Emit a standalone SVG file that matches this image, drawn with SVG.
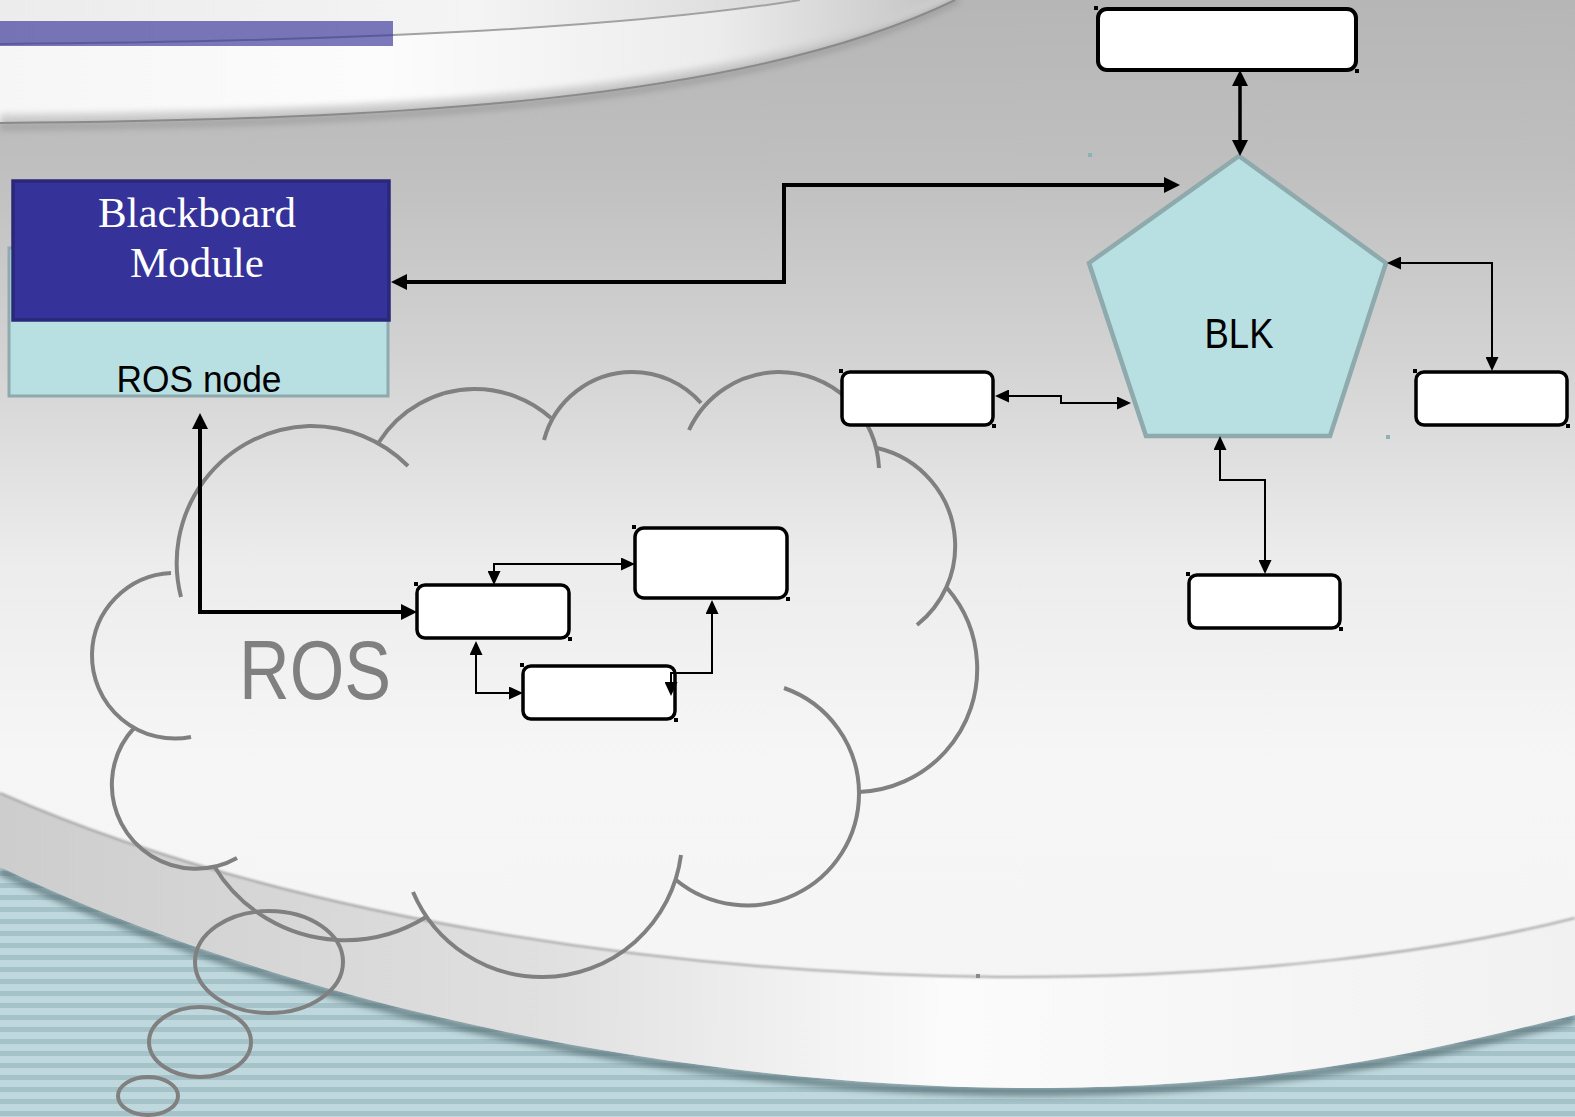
<svg xmlns="http://www.w3.org/2000/svg" width="1575" height="1117" viewBox="0 0 1575 1117">
<style>
.box{fill:#ffffff;stroke:#000000;stroke-width:3.5}
.dot{fill:#000000}
.cloud{fill:none;stroke:#808080;stroke-width:4}
.thick{fill:none;stroke:#000000;stroke-width:4;marker-start:url(#ahThick);marker-end:url(#ahThick)}
.thin{fill:none;stroke:#000000;stroke-width:2;marker-start:url(#ahThin);marker-end:url(#ahThin)}
.sans{font-family:"Liberation Sans",Arial,sans-serif}
.serif{font-family:"Liberation Serif","Times New Roman",serif}
</style>
<defs>
<linearGradient id="bg" x1="0" y1="0" x2="0" y2="1">
<stop offset="0" stop-color="#b6b6b6"/>
<stop offset="0.15" stop-color="#bfbfbf"/>
<stop offset="0.33" stop-color="#d4d4d4"/>
<stop offset="0.5" stop-color="#ececec"/>
<stop offset="0.68" stop-color="#f6f6f6"/>
<stop offset="1" stop-color="#f4f4f4"/>
</linearGradient>
<linearGradient id="plateTop" x1="0" y1="0" x2="1" y2="0">
<stop offset="0" stop-color="#f6f6f6"/>
<stop offset="0.4" stop-color="#fcfcfc"/>
<stop offset="0.75" stop-color="#ececec"/>
<stop offset="1" stop-color="#c2c2c2"/>
</linearGradient>
<linearGradient id="plateRim" x1="0" y1="0" x2="1" y2="0">
<stop offset="0" stop-color="#ececec"/>
<stop offset="0.6" stop-color="#f4f4f4"/>
<stop offset="1" stop-color="#d8d8d8"/>
</linearGradient>
<linearGradient id="band" x1="0" y1="0" x2="1" y2="0">
<stop offset="0" stop-color="#cdcdcd"/>
<stop offset="0.35" stop-color="#e0e0e0"/>
<stop offset="0.6" stop-color="#fbfbfb"/>
<stop offset="1" stop-color="#f1f1f1"/>
</linearGradient>
<pattern id="stripes" patternUnits="userSpaceOnUse" width="20" height="12">
<rect width="20" height="12" fill="#bfd8dd"/>
<rect y="7" width="20" height="5" fill="#a6c2c9"/>
</pattern>
<filter id="blur" filterUnits="userSpaceOnUse" x="0" y="0" width="1575" height="1117">
<feGaussianBlur stdDeviation="3"/>
</filter>
<filter id="blur1" filterUnits="userSpaceOnUse" x="0" y="0" width="1575" height="1117">
<feGaussianBlur stdDeviation="1.2"/>
</filter>
<clipPath id="plateClip">
<path d="M0,44 C300,42 600,32 800,0 L955,0 C750,100 400,120 0,123 Z"/>
</clipPath>
<marker id="ahThick" viewBox="0 0 16 16" refX="12" refY="8" markerWidth="16" markerHeight="16" markerUnits="userSpaceOnUse" orient="auto-start-reverse">
<path d="M0,0 L16,8 L0,16 Z" fill="#000000"/>
</marker>
<marker id="ahThin" viewBox="0 0 14 13" refX="12" refY="6.5" markerWidth="14" markerHeight="13" markerUnits="userSpaceOnUse" orient="auto-start-reverse">
<path d="M0,0 L14,6.5 L0,13 Z" fill="#000000"/>
</marker>
</defs>

<g id="background">
<rect x="0" y="0" width="1575" height="1117" fill="url(#bg)"/>
<path d="M0,0 L800,0 C600,32 300,42 0,44 Z" fill="url(#plateRim)"/>
<path d="M0,44 C300,42 600,32 800,0 L955,0 C750,100 400,120 0,123 Z" fill="url(#plateTop)"/>
<path d="M0,123 C400,120 750,100 955,0" fill="none" stroke="#cfcfcf" stroke-width="18" filter="url(#blur)" clip-path="url(#plateClip)"/>
<path d="M0,127 C400,124 752,104 959,0" fill="none" stroke="#8e8e8e" stroke-width="6" opacity="0.6" filter="url(#blur)"/>
<path d="M0,123 C400,120 750,100 955,0" fill="none" stroke="#8a8a8a" stroke-width="2"/>
<path d="M0,44 C300,42 600,32 800,0" fill="none" stroke="#a2a2a2" stroke-width="2"/>
<path d="M0,867 C300,1010 700,1090 1050,1088 C1300,1086 1450,1045 1575,1015 L1575,1117 L0,1117 Z" fill="url(#stripes)"/>
<path d="M0,871 C300,1014 700,1094 1050,1092 C1300,1090 1450,1049 1575,1019" fill="none" stroke="#4d676d" stroke-width="8" opacity="0.75" filter="url(#blur)"/>
<path d="M0,793 C300,925 700,975 1000,977 C1250,978 1450,950 1575,918 L1575,1015 C1450,1045 1300,1086 1050,1088 C700,1090 300,1010 0,867 Z" fill="url(#band)"/>
<path d="M0,793 C300,925 700,975 1000,977 C1250,978 1450,950 1575,918" fill="none" stroke="#a4a4a4" stroke-width="2" filter="url(#blur1)"/>
<rect x="0" y="21" width="393" height="25" fill="#353399" opacity="0.65"/>
<rect x="1088" y="153" width="4" height="4" fill="#8fb0b4"/>
<rect x="1386" y="435" width="4" height="4" fill="#8fb0b4"/>
<rect x="976" y="974" width="4" height="4" fill="#8a8a8a"/>
</g>

<g id="ros-cloud">
<path class="cloud" d="M191,737 A83,83 0 0 1 92,654 A83,83 0 0 1 171,573"/>
<path class="cloud" d="M181,597 A137,137 0 0 1 309,426 A137,137 0 0 1 408,466"/>
<path class="cloud" d="M379,442 A114,114 0 0 1 474,389 A114,114 0 0 1 551,418"/>
<path class="cloud" d="M544,440 A91.5,91.5 0 0 1 632,372 A91.5,91.5 0 0 1 701,403"/>
<path class="cloud" d="M689,430 A100,100 0 0 1 778,372 A100,100 0 0 1 879,468"/>
<path class="cloud" d="M877,448 A100.5,100.5 0 0 1 955,540 A100.5,100.5 0 0 1 917,625"/>
<path class="cloud" d="M947,588 A123,123 0 0 1 977,662 A123,123 0 0 1 859,792"/>
<path class="cloud" d="M784,688 A112,112 0 0 1 859,793 A112,112 0 0 1 676,880"/>
<path class="cloud" d="M413,892 A140,140 0 0 0 543,977 A140,140 0 0 0 681,855"/>
<path class="cloud" d="M214,866 A153,153 0 0 0 337,940 A153,153 0 0 0 426,917"/>
<path class="cloud" d="M135,727 A84,84 0 0 0 112,780 A84,84 0 0 0 237,858"/>
<ellipse class="cloud" cx="269" cy="962" rx="74" ry="51"/>
<ellipse class="cloud" cx="200" cy="1042" rx="51" ry="35"/>
<ellipse class="cloud" cx="148" cy="1096" rx="30" ry="19"/>
<text class="sans" x="315" y="699" font-size="84" fill="#808080" text-anchor="middle" textLength="152" lengthAdjust="spacingAndGlyphs">ROS</text>
</g>

<g id="ros-node">
<rect x="9" y="248" width="379" height="148" fill="#b8dfe2" stroke="#8eaaac" stroke-width="3"/>
<text class="sans" x="199" y="392" font-size="36" fill="#000000" text-anchor="middle" textLength="165" lengthAdjust="spacingAndGlyphs">ROS node</text>
</g>

<g id="blackboard-module">
<rect x="13" y="181" width="376" height="139" fill="#353399" stroke="#2a2879" stroke-width="3.5"/>
<text class="serif" x="197" y="227" font-size="43" fill="#ffffff" text-anchor="middle">Blackboard</text>
<text class="serif" x="197" y="277" font-size="43" fill="#ffffff" text-anchor="middle">Module</text>
</g>

<g id="blk">
<polygon points="1239,156 1386,263 1330,436 1146,436 1089,263" fill="#b8dfe2" stroke="#8eaaac" stroke-width="4.5" stroke-linejoin="miter"/>
<text class="sans" x="1239" y="348" font-size="42" fill="#000000" text-anchor="middle" textLength="69" lengthAdjust="spacingAndGlyphs">BLK</text>
</g>

<g id="box-top">
<rect class="box" style="stroke-width:4" x="1098" y="9" width="258" height="61" rx="9"/>
<rect class="dot" x="1094" y="6" width="4" height="4"/>
<rect class="dot" x="1355" y="69" width="4" height="4"/>
</g>
<g id="box-left">
<rect class="box" x="842" y="372" width="151" height="53" rx="8"/>
<rect class="dot" x="839" y="369" width="4" height="4"/>
<rect class="dot" x="992" y="424" width="4" height="4"/>
</g>
<g id="box-right">
<rect class="box" x="1416" y="372" width="151" height="53" rx="8"/>
<rect class="dot" x="1413" y="369" width="4" height="4"/>
<rect class="dot" x="1566" y="424" width="4" height="4"/>
</g>
<g id="box-bottom">
<rect class="box" x="1189" y="575" width="151" height="53" rx="8"/>
<rect class="dot" x="1186" y="572" width="4" height="4"/>
<rect class="dot" x="1339" y="627" width="4" height="4"/>
</g>
<g id="ros-box-a">
<rect class="box" x="417" y="585" width="152" height="53" rx="8"/>
<rect class="dot" x="414" y="582" width="4" height="4"/>
<rect class="dot" x="568" y="637" width="4" height="4"/>
</g>
<g id="ros-box-b">
<rect class="box" x="635" y="528" width="152" height="70" rx="9"/>
<rect class="dot" x="632" y="525" width="4" height="4"/>
<rect class="dot" x="786" y="597" width="4" height="4"/>
</g>
<g id="ros-box-c">
<rect class="box" x="523" y="666" width="152" height="53" rx="8"/>
<rect class="dot" x="520" y="663" width="4" height="4"/>
<rect class="dot" x="674" y="718" width="4" height="4"/>
</g>

<g id="connectors">
<path class="thick" d="M395,282 H784 V185 H1176"/>
<path class="thick" style="stroke-width:3.5" d="M1240,74 V152"/>
<path class="thick" d="M200,417 V612 H413"/>
<path class="thin" d="M997,396 H1061 V403 H1129"/>
<path class="thin" d="M1389,263 H1492 V369"/>
<path class="thin" d="M1220,438 V480 H1265 V572"/>
<path class="thin" d="M494,583 V564 H633"/>
<path class="thin" d="M476,643 V693 H521"/>
<path class="thin" d="M712,602 V673 H671 V694"/>
</g>
</svg>
